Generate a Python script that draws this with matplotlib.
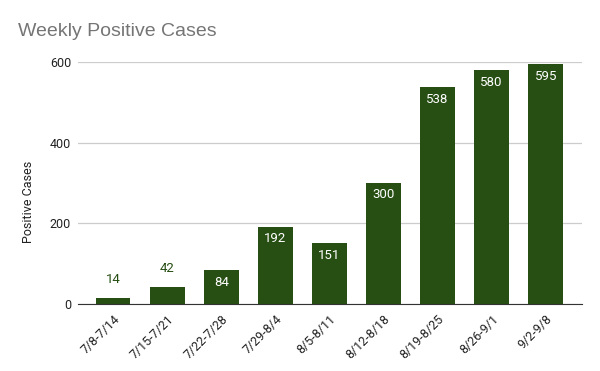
import matplotlib.pyplot as plt
import numpy as np

weeks = ['7/8-7/14', '7/15-7/21', '7/22-7/28', '7/29-8/4', '8/5-8/11',
         '8/12-8/18', '8/19-8/25', '8/26-9/1', '9/2-9/8']
cases = [14, 42, 84, 192, 151, 300, 538, 580, 595]
yticks = [0, 200, 400, 600]

green = '#274e13'
plt.rcParams['font.family'] = ['Roboto', 'DejaVu Sans']

fig = plt.figure(figsize=(6, 3.71), dpi=100)
ax = fig.add_axes([78/600, 1 - 304/371, (582-78)/600, (304-62)/371])

x = np.arange(len(cases))
ax.bar(x, cases, width=0.64, color=green, zorder=3)
ax.set_xlim(-0.65, len(cases) - 1 + 0.67)
ax.set_ylim(0, 600)

# value labels: inside for tall bars, above for short ones
for xi, v in zip(x, cases):
    if v >= 60:
        ax.annotate(str(v), (xi, v), xytext=(0, -12), textcoords='offset pixels',
                    ha='center', va='center', color='white', fontsize=9.5)
    else:
        ax.annotate(str(v), (xi, v), xytext=(0, 19), textcoords='offset pixels',
                    ha='center', va='center', color=green, fontsize=9.5)

ax.set_yticks(yticks)
ax.set_xticks(x)
ax.set_xticklabels(weeks, rotation=45, ha='right', rotation_mode='anchor')
ax.tick_params(axis='both', length=0, labelsize=9, colors='#222222')
ax.tick_params(axis='y', pad=5)
ax.tick_params(axis='x', pad=6)
ax.grid(axis='y', color='#cccccc', linewidth=0.9, zorder=0)
for s in ['top', 'right', 'left']:
    ax.spines[s].set_visible(False)
ax.spines['bottom'].set_color('#333333')
ax.spines['bottom'].set_zorder(4)

ax.set_ylabel('Positive Cases', fontsize=9, color='#222222')
ax.yaxis.set_label_coords(-0.085, 0.42)
fig.text(18/600, 1 - 32/371, 'Weekly Positive Cases', fontsize=14, color='#757575',
         va='center', ha='left', family=['Liberation Sans', 'DejaVu Sans'])

fig.savefig('out.png', dpi=100)
